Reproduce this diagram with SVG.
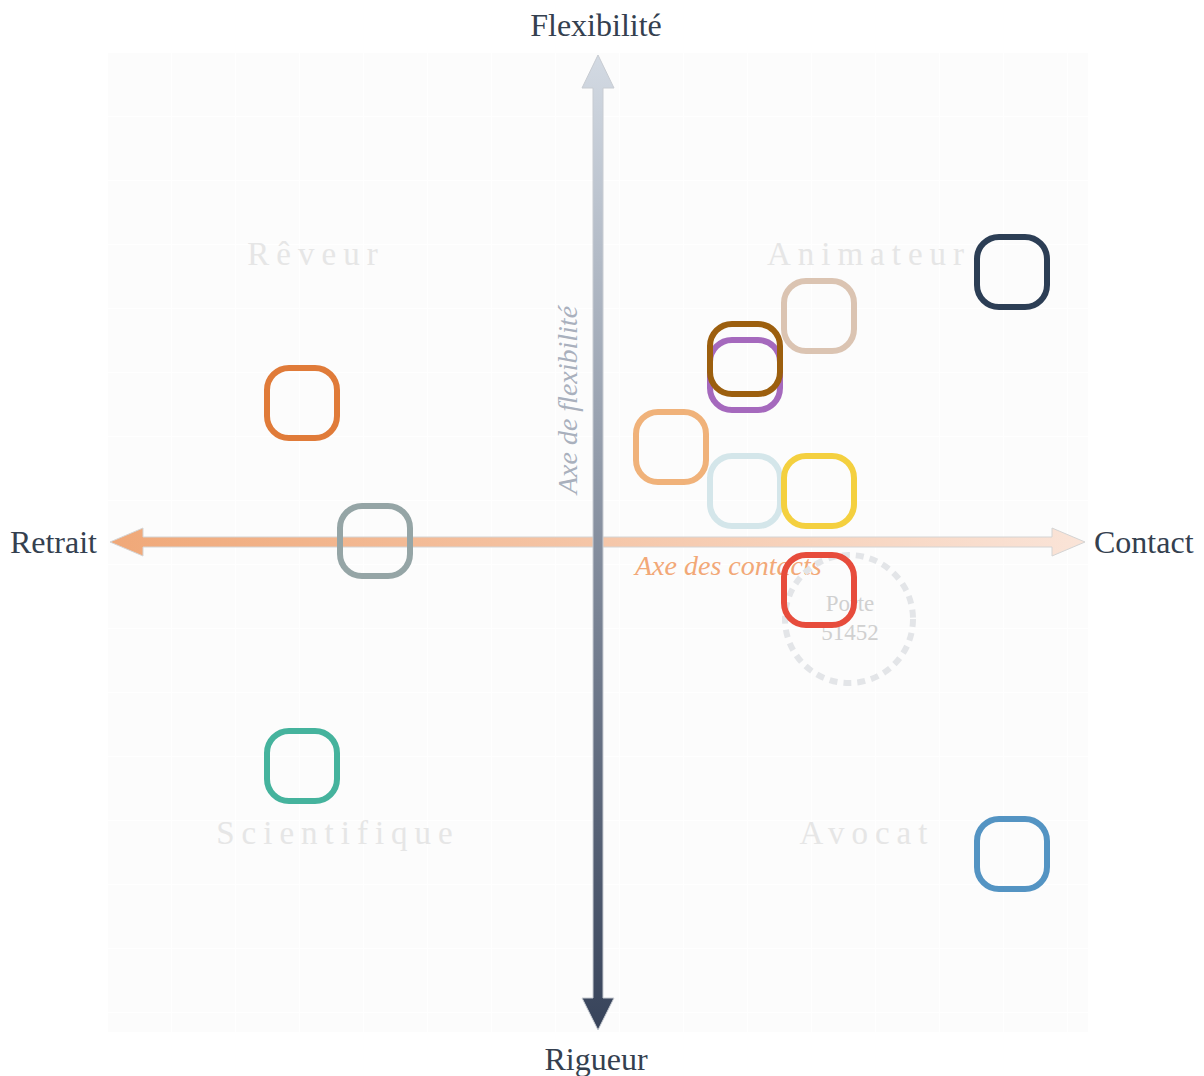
<svg xmlns="http://www.w3.org/2000/svg" width="1204" height="1076" viewBox="0 0 1204 1076">
<defs>
<pattern id="grid" x="107" y="52" width="64" height="64" patternUnits="userSpaceOnUse">
<rect width="64" height="64" fill="#fcfcfc"/>
<path d="M0 0H64M0 0V64" stroke="#ffffff" stroke-width="2" fill="none"/>
</pattern>
<linearGradient id="hgrad" x1="110" y1="0" x2="1085" y2="0" gradientUnits="userSpaceOnUse">
<stop offset="0" stop-color="#f0a878"/>
<stop offset="1" stop-color="#fae4d8"/>
</linearGradient>
<linearGradient id="vgrad" x1="0" y1="55" x2="0" y2="1030" gradientUnits="userSpaceOnUse">
<stop offset="0" stop-color="#d3dae3"/>
<stop offset="1" stop-color="#37435a"/>
</linearGradient>
</defs>
<style>
.node{fill:none;stroke-width:6}
.quad{font-size:33px;fill:#e6e6e6;letter-spacing:7px;text-anchor:middle}
.axis{font-size:32px;fill:#34404f}
.axname{font-size:28px;font-style:italic}
</style>
<rect x="107" y="52" width="981" height="980" fill="url(#grid)"/>
<g id="quadrants" font-family="'Liberation Serif', 'Times New Roman', serif">
<text class="quad" x="316" y="265">Rêveur</text>
<text class="quad" x="869" y="265">Animateur</text>
<text class="quad" x="338" y="844">Scientifique</text>
<text class="quad" x="867" y="844">Avocat</text>
</g>
<g id="connectors">
<path d="M110 542 L143 528 L143 537 L1052 537 L1052 528 L1085 542 L1052 556 L1052 547 L143 547 L143 556 Z" fill="url(#hgrad)" stroke="#d4d4d4" stroke-width="1"/>
<path d="M598 55 L614 88 L603 88 L603 998 L614 998 L598 1030 L582 998 L593 998 L593 88 L582 88 Z" fill="url(#vgrad)" stroke="#c8ccd2" stroke-width="1"/>
</g>
<g id="axis-names" font-family="'Liberation Serif', 'Times New Roman', serif">
<text class="axname" x="0" y="0" transform="translate(577 400) rotate(-90)" text-anchor="middle" fill="#a9b0bd">Axe de flexibilité</text>
<text class="axname" x="635" y="575" fill="#f2a877">Axe des contacts</text>
</g>
<g id="porte" font-family="'Liberation Serif', 'Times New Roman', serif">
<circle cx="849" cy="619" r="64" fill="none" stroke="#e3e5e8" stroke-width="6" stroke-dasharray="8 6"/>
<text x="850" y="611" font-size="23" fill="#d0d0d0" text-anchor="middle">Porte</text>
<text x="850" y="640" font-size="23" fill="#d0d0d0" text-anchor="middle">51452</text>
</g>
<g id="n-navy"><rect class="node" x="977" y="237" width="70" height="70" rx="22" stroke="#2c3e55"/></g>
<g id="n-tan"><rect class="node" x="784" y="281" width="70" height="70" rx="22" stroke="#dbc4b2"/></g>
<g id="n-purple"><rect class="node" x="710" y="340" width="70" height="70" rx="22" stroke="#a569bd"/></g>
<g id="n-brown"><rect class="node" x="710" y="324" width="70" height="70" rx="22" stroke="#9c5f0e"/></g>
<g id="n-orange"><rect class="node" x="267" y="368" width="70" height="70" rx="22" stroke="#e07b39"/></g>
<g id="n-peach"><rect class="node" x="636" y="412" width="70" height="70" rx="22" stroke="#f0b27a"/></g>
<g id="n-lightblue"><rect class="node" x="710" y="456" width="70" height="70" rx="22" stroke="#d4e6ea"/></g>
<g id="n-yellow"><rect class="node" x="784" y="456" width="70" height="70" rx="22" stroke="#f4d03f"/></g>
<g id="n-gray"><rect class="node" x="340" y="506" width="70" height="70" rx="22" stroke="#95a5a6"/></g>
<g id="n-red"><rect class="node" x="784" y="555" width="70" height="70" rx="22" stroke="#e74c3c"/></g>
<g id="n-teal"><rect class="node" x="267" y="731" width="70" height="70" rx="22" stroke="#45b39d"/></g>
<g id="n-blue"><rect class="node" x="977" y="819" width="70" height="70" rx="22" stroke="#5494c3"/></g>
<g id="labels" font-family="'Liberation Serif', 'Times New Roman', serif">
<text class="axis" x="596" y="36" text-anchor="middle">Flexibilité</text>
<text class="axis" x="596" y="1070" text-anchor="middle">Rigueur</text>
<text class="axis" x="97" y="553" text-anchor="end">Retrait</text>
<text class="axis" x="1094" y="553">Contact</text>
</g>
</svg>
